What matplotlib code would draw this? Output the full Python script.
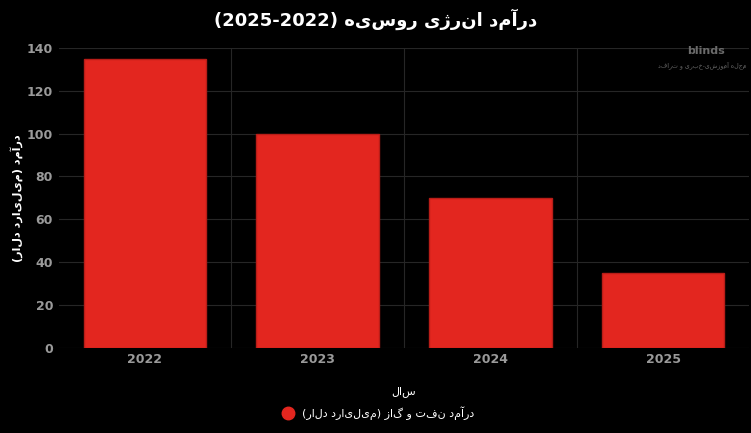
import matplotlib.pyplot as plt
from matplotlib.lines import Line2D

years = ["2022", "2023", "2024", "2025"]
revenue = [135, 100, 70, 35]

title_fa = "درآمد انرژی روسیه"
ylabel_fa = "درآمد (میلیارد دلار)"
xlabel_fa = "سال"
legend_fa = "درآمد نفت و گاز (میلیارد دلار)"


def visual(s):
    # no bidi support in matplotlib: put RTL text in visual order
    swap = {"(": ")", ")": "("}
    return "".join(swap.get(c, c) for c in reversed(s))


plt.rcParams["font.family"] = ["DejaVu Sans"]
fig = plt.figure(figsize=(7.51, 4.33), dpi=100, facecolor="black")
ax = fig.add_axes([0.078, 0.197, 0.92, 0.692], facecolor="black")

x = range(len(years))
ax.bar(x, revenue, width=0.71, color="#e3261f", edgecolor="#b81d18", linewidth=1, zorder=3)

ax.set_xlim(-0.5, 3.5)
ax.set_ylim(0, 140)
ax.set_yticks(range(0, 141, 20))
ax.set_xticks(list(x))
ax.set_xticklabels(years)
ax.set_xticks([0.5, 1.5, 2.5], minor=True)
ax.tick_params(colors="#9a9a9a", labelsize=9, length=0, which="both", pad=4)
for lab in ax.get_xticklabels() + ax.get_yticklabels():
    lab.set_fontweight("bold")
ax.grid(axis="y", color="#262626", linewidth=0.8, zorder=0)
ax.grid(axis="x", which="minor", color="#262626", linewidth=0.8, zorder=0)
for sp in ax.spines.values():
    sp.set_visible(False)

ax.set_xlabel(visual(xlabel_fa), color="white", fontsize=8, labelpad=14)
ax.set_ylabel(visual(ylabel_fa), color="white", fontsize=8, fontweight="bold", labelpad=3)
fig.text(0.5, 0.955, "(2025-2022) " + visual(title_fa), color="white", fontsize=13,
         fontweight="bold", ha="center", va="center")

h = Line2D([], [], marker="o", linestyle="", markersize=9, color="#e3261f")
fig.legend([h], [visual(legend_fa)], loc="center", bbox_to_anchor=(0.5, 0.045),
           frameon=False, fontsize=8, labelcolor="white", handletextpad=0.3)

fig.text(0.94, 0.875, "blinds", color="#6a6a6a", fontsize=8, fontweight="bold", ha="center")
fig.text(0.935, 0.845, visual("مجله آموزشی-خبری و ترافد"), color="#6a6a6a", fontsize=4.5, ha="center")

fig.savefig("out.png", facecolor="black")
